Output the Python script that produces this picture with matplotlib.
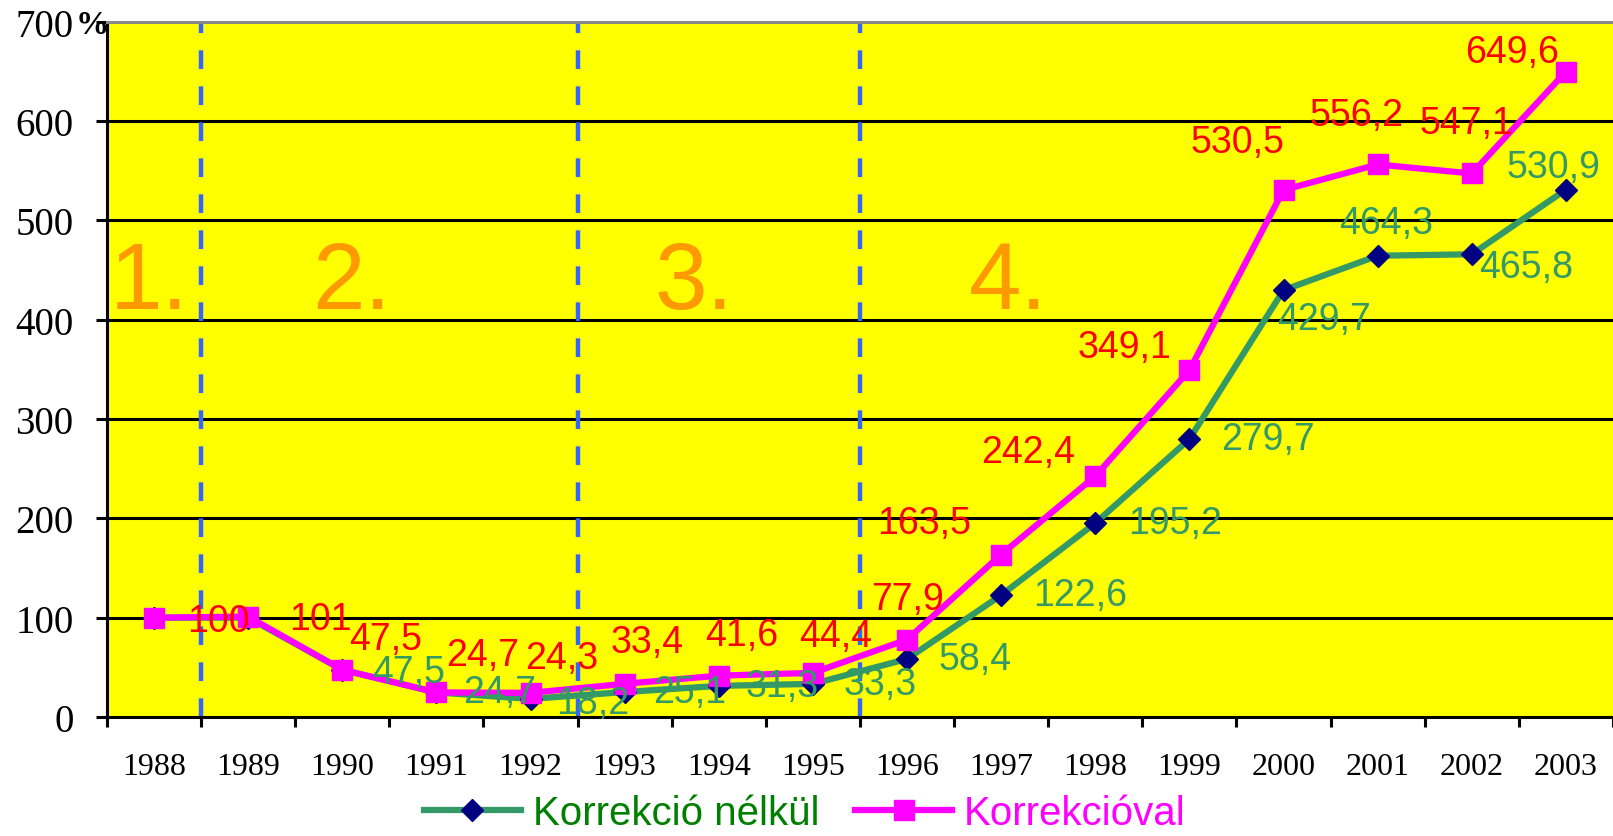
import matplotlib
matplotlib.use("Agg")
import matplotlib.pyplot as plt
import numpy as np

# ── Data ────────────────────────────────────────────────
years = ["1988", "1989", "1990", "1991", "1992", "1993", "1994", "1995",
         "1996", "1997", "1998", "1999", "2000", "2001", "2002", "2003"]
nelkul = [100, 100, 47.5, 24.7, 18.2, 25.1, 31.3, 33.3,
          58.4, 122.6, 195.2, 279.7, 429.7, 464.3, 465.8, 530.9]
korrekcioval = [100, 101, 47.5, 24.7, 24.3, 33.4, 41.6, 44.4,
                77.9, 163.5, 242.4, 349.1, 530.5, 556.2, 547.1, 649.6]
period_labels = ["1.", "2.", "3.", "4."]
period_breaks = [0.5, 4.5, 7.5]          # between 1988/89, 1992/93, 1995/96
yticks = [0, 100, 200, 300, 400, 500, 600, 700]

# label offsets in pixels (dx, dy) -- mimics Excel's manual label placement
mag_off = [(64, -3), (72, -2), (43, 31), (46, 37), (31, 35), (22, 42), (23, 41),
           (23, 37), (0, 41), (-77, 32), (-67, 24), (-65, 23), (-46, 48),
           (-21, 49), (-5, 50), (-54, 20)]
grn_off = [None, None, (66, -2), (63, 0), (62, -4), (65, 0), (63, 0), (67, 0),
           (68, 0), (79, 0), (80, 0), (79, 0), (40, -29), (8, 33), (54, -13),
           (-12, 23)]

GREEN = "#339966"
NAVY = "#000080"
MAGENTA = "#FF00FF"
ORANGE = "#FF9900"
SANS = "Liberation Sans"
SERIF = "Liberation Serif"


def fmt(v):
    s = f"{v:.1f}".replace(".", ",")
    return s[:-2] if s.endswith(",0") else s


fig = plt.figure(figsize=(16.13, 8.37), dpi=100)
ax = fig.add_axes([0.0663, 0.1422, 0.9337, 0.8308])
ax.set_facecolor("#FFFF00")

x = np.arange(len(years))
ax.set_xlim(-0.5, len(years) - 0.5)
ax.set_ylim(0, 700)

# horizontal grid
for yv in yticks[1:-1]:
    ax.axhline(yv, color="black", lw=2.2, zorder=1)

# period separators
for b in period_breaks:
    ax.plot([b, b], [0, 700], color="#3366FF", lw=3.2, dashes=(4.2, 3.9), zorder=2)

# period numbers
period_x = [-0.05, 2.1, 5.73, 9.07]
for px, lab in zip(period_x, period_labels):
    ax.text(px, 412, lab, color=ORANGE, fontsize=68, family=SANS,
            ha="center", va="baseline", zorder=2)

ax.plot(x, nelkul, color=GREEN, lw=4.5, marker="D", ms=11.5,
        mfc=NAVY, mec=NAVY, zorder=3, label="Korrekció nélkül")
ax.plot(x, korrekcioval, color=MAGENTA, lw=4.5, marker="s", ms=14,
        mfc=MAGENTA, mec=MAGENTA, zorder=4, label="Korrekcióval")

for xi, v, off in zip(x, nelkul, grn_off):
    if off is None:
        continue
    ax.annotate(fmt(v), (xi, v), xytext=off, textcoords="offset pixels",
                ha="center", va="center", color=GREEN, fontsize=27,
                family=SANS, zorder=5)
for xi, v, off in zip(x, korrekcioval, mag_off):
    ax.annotate(fmt(v), (xi, v), xytext=off, textcoords="offset pixels",
                ha="center", va="center", color="#FF0000", fontsize=27,
                family=SANS, zorder=6)

# axes styling
for s in ["left", "bottom"]:
    ax.spines[s].set_linewidth(2.2)
    ax.spines[s].set_color("black")
ax.spines["top"].set_color("#888888")
ax.spines["top"].set_linewidth(2.2)
ax.spines["right"].set_visible(False)

ax.set_yticks(yticks)
ax.set_yticklabels([str(t) for t in yticks], family=SERIF, fontsize=28)
ax.tick_params(axis="y", direction="out", length=8, width=2.2, pad=16)

ax.set_xticks(np.arange(-0.5, len(years)), labels=[""] * (len(years) + 1))
ax.set_xticks(x, labels=years, minor=True)
ax.tick_params(axis="x", which="major", direction="out", length=7, width=2.2)
ax.tick_params(axis="x", which="minor", length=0, pad=25)
for t in ax.get_xticklabels(minor=True):
    t.set_family(SERIF)
    t.set_fontsize(23)

fig.text(76 / 1613, 1 - 26 / 837, "%", family=SERIF, fontweight="bold",
         fontsize=24, ha="left", va="center")

leg = fig.legend(loc="center", bbox_to_anchor=(0.499, 0.027), ncol=2,
                 frameon=False, prop={"family": SANS, "size": 29},
                 handlelength=2.4, handletextpad=0.3, columnspacing=0.9,
                 borderpad=0.0)
for txt, c in zip(leg.get_texts(), ["#008000", MAGENTA]):
    txt.set_color(c)

fig.savefig("out.png", dpi=100)
